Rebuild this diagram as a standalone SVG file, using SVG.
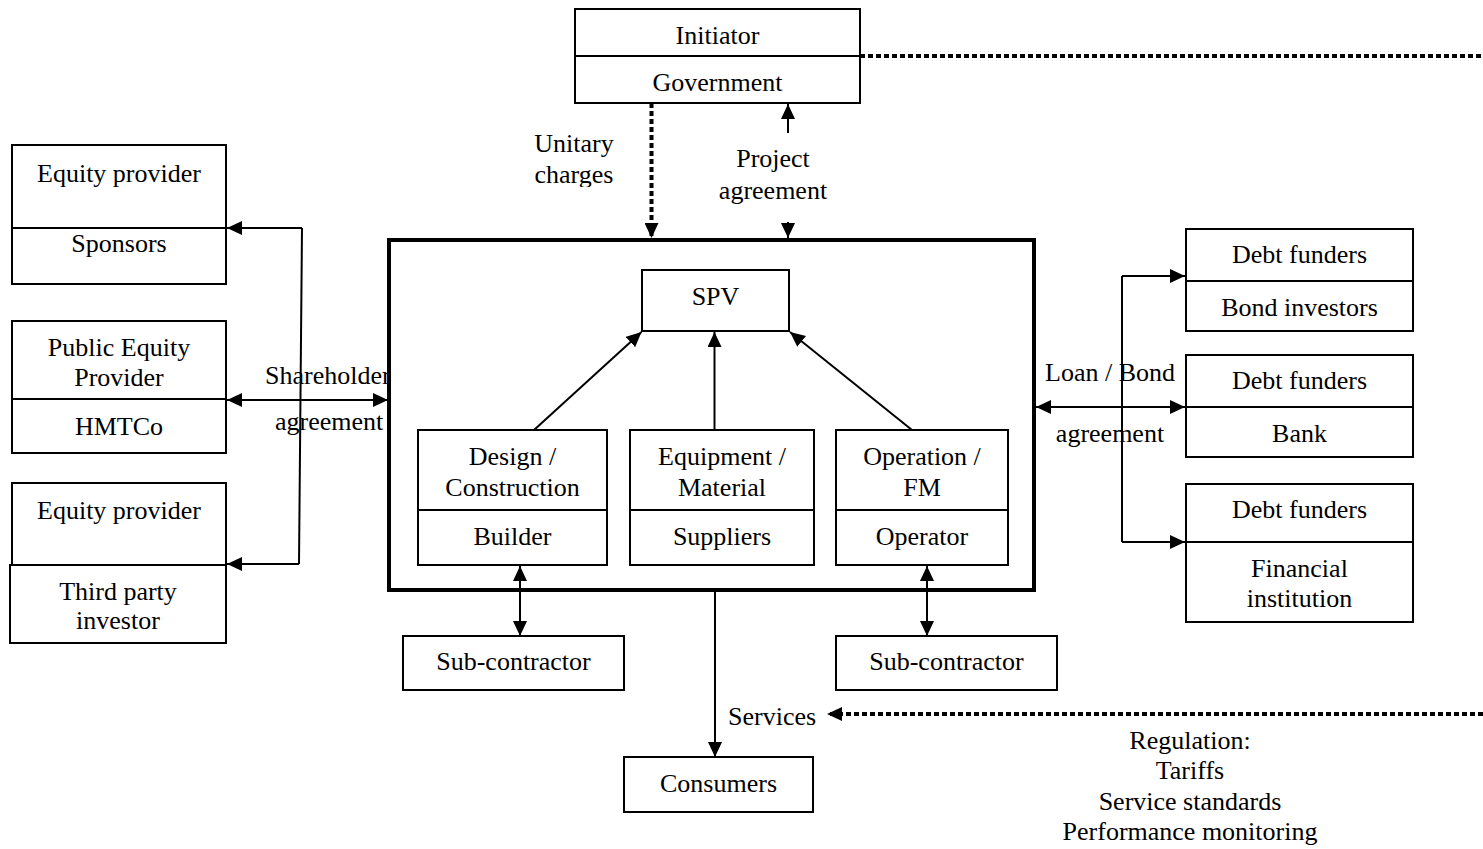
<svg xmlns="http://www.w3.org/2000/svg" width="1483" height="849" viewBox="0 0 1483 849">
  <defs>
    <marker id="arrow" viewBox="0 0 15 14" markerUnits="userSpaceOnUse" markerWidth="15" markerHeight="14" refX="15" refY="7" orient="auto-start-reverse">
      <path d="M0,0 L15,7 L0,14 z" fill="#000" stroke="none"/>
    </marker>
    <clipPath id="clip-charges">
      <rect x="520" y="120" width="120" height="67"/>
    </clipPath>
    <clipPath id="clip-left-of-box">
      <rect x="0" y="0" width="389" height="849"/>
    </clipPath>
    <style>
      text { font-family: "Liberation Serif", "Times New Roman", serif; font-size: 26px; fill: #000; text-anchor: middle; }
      .box { fill: #fff; stroke: #000; stroke-width: 2; }
      .div { stroke: #000; stroke-width: 2; fill: none; }
      .main { fill: #fff; stroke: #000; stroke-width: 4; }
      .line { fill: none; stroke: #000; stroke-width: 2; }
      .dot { fill: none; stroke: #000; stroke-width: 4; stroke-dasharray: 5 3; }
      .end { marker-end: url(#arrow); }
      .both { marker-start: url(#arrow); marker-end: url(#arrow); }
      .lbl-start { text-anchor: start; }
    </style>
  </defs>

  <!-- the project company frame sits underneath everything it contains -->
  <g id="project-company">
    <rect class="main" x="389" y="240" width="645" height="350"/>
  </g>

  <!-- connector lines and their labels -->
  <g id="connectors">
    <!-- government relations -->
    <path class="dot" d="M860,56 H1483"/>
    <path class="dot end" d="M651.5,103 V238"/>
    <path class="line end" d="M788,133 V104"/>
    <path class="line end" d="M788,222 V238"/>
    <text x="574" y="152">Unitary</text>
    <text x="574" y="183" clip-path="url(#clip-charges)">charges</text>
    <text x="773" y="167">Project</text>
    <text x="773" y="199">agreement</text>

    <!-- shareholder agreement -->
    <path class="line end" d="M302,228 H227"/>
    <path class="line" d="M302,228 L299,564"/>
    <path class="line end" d="M299,564 H227"/>
    <path class="line both" d="M227,400 H388"/>
    <text class="lbl-start" x="265" y="384" clip-path="url(#clip-left-of-box)">Shareholder</text>
    <text class="lbl-start" x="275" y="430">agreement</text>

    <!-- loan / bond agreement -->
    <path class="line end" d="M1122,276 H1185"/>
    <path class="line" d="M1122,276 V542"/>
    <path class="line end" d="M1122,542 H1185"/>
    <path class="line both" d="M1036,407 H1185"/>
    <text x="1110" y="381">Loan / Bond</text>
    <text x="1110" y="442">agreement</text>

    <!-- contractors to SPV -->
    <path class="line end" d="M534,430 L641.5,332"/>
    <path class="line end" d="M714.5,430 V332"/>
    <path class="line end" d="M912,430 L790,332"/>

    <!-- sub-contracts -->
    <path class="line both" d="M520,566 V636"/>
    <path class="line both" d="M927,566 V636"/>

    <!-- services to consumers -->
    <path class="line end" d="M715,592 V757"/>
    <text class="lbl-start" x="728" y="725">Services</text>
    <path class="dot end" d="M1483,714 H827"/>
    <text x="1190" y="749">Regulation:</text>
    <text x="1190" y="779">Tariffs</text>
    <text x="1190" y="810">Service standards</text>
    <text x="1190" y="840">Performance monitoring</text>
  </g>

  <g id="initiator">
    <rect class="box" x="575" y="9" width="285" height="94"/>
    <path class="div" d="M575,56 H860"/>
    <text x="717.5" y="44">Initiator</text>
    <text x="717.5" y="91">Government</text>
  </g>

  <g id="spv">
    <rect class="box" x="642" y="270" width="147" height="61"/>
    <text x="715.5" y="305">SPV</text>
  </g>

  <g id="builder">
    <rect class="box" x="418" y="430" width="189" height="135"/>
    <path class="div" d="M418,510 H607"/>
    <text x="512.5" y="465">Design /</text>
    <text x="512.5" y="496">Construction</text>
    <text x="512.5" y="545">Builder</text>
  </g>

  <g id="suppliers">
    <rect class="box" x="630" y="430" width="184" height="135"/>
    <path class="div" d="M630,510 H814"/>
    <text x="722" y="465">Equipment /</text>
    <text x="722" y="496">Material</text>
    <text x="722" y="545">Suppliers</text>
  </g>

  <g id="operator">
    <rect class="box" x="836" y="430" width="172" height="135"/>
    <path class="div" d="M836,510 H1008"/>
    <text x="922" y="465">Operation /</text>
    <text x="922" y="496">FM</text>
    <text x="922" y="545">Operator</text>
  </g>

  <g id="subcontractor-left">
    <rect class="box" x="403" y="636" width="221" height="54"/>
    <text x="513.5" y="670">Sub-contractor</text>
  </g>

  <g id="subcontractor-right">
    <rect class="box" x="836" y="636" width="221" height="54"/>
    <text x="946.5" y="670">Sub-contractor</text>
  </g>

  <g id="consumers">
    <rect class="box" x="624" y="757" width="189" height="55"/>
    <text x="718.5" y="792">Consumers</text>
  </g>

  <g id="sponsors">
    <rect class="box" x="12" y="145" width="214" height="139"/>
    <path class="div" d="M12,228 H226"/>
    <text x="119" y="182">Equity provider</text>
    <text x="119" y="252">Sponsors</text>
  </g>

  <g id="hmtco">
    <rect class="box" x="12" y="321" width="214" height="132"/>
    <path class="div" d="M12,399 H226"/>
    <text x="119" y="356">Public Equity</text>
    <text x="119" y="386">Provider</text>
    <text x="119" y="435">HMTCo</text>
  </g>

  <g id="third-party">
    <rect class="box" x="12" y="483" width="214" height="82"/>
    <rect class="box" x="10" y="565" width="216" height="78"/>
    <text x="119" y="519">Equity provider</text>
    <text x="118" y="600">Third party</text>
    <text x="118" y="629">investor</text>
  </g>

  <g id="bond-investors">
    <rect class="box" x="1186" y="229" width="227" height="102"/>
    <path class="div" d="M1186,281 H1413"/>
    <text x="1299.5" y="263">Debt funders</text>
    <text x="1299.5" y="316">Bond investors</text>
  </g>

  <g id="bank">
    <rect class="box" x="1186" y="355" width="227" height="102"/>
    <path class="div" d="M1186,407 H1413"/>
    <text x="1299.5" y="389">Debt funders</text>
    <text x="1299.5" y="442">Bank</text>
  </g>

  <g id="financial-institution">
    <rect class="box" x="1186" y="484" width="227" height="138"/>
    <path class="div" d="M1186,542 H1413"/>
    <text x="1299.5" y="518">Debt funders</text>
    <text x="1299.5" y="577">Financial</text>
    <text x="1299.5" y="607">institution</text>
  </g>
</svg>
